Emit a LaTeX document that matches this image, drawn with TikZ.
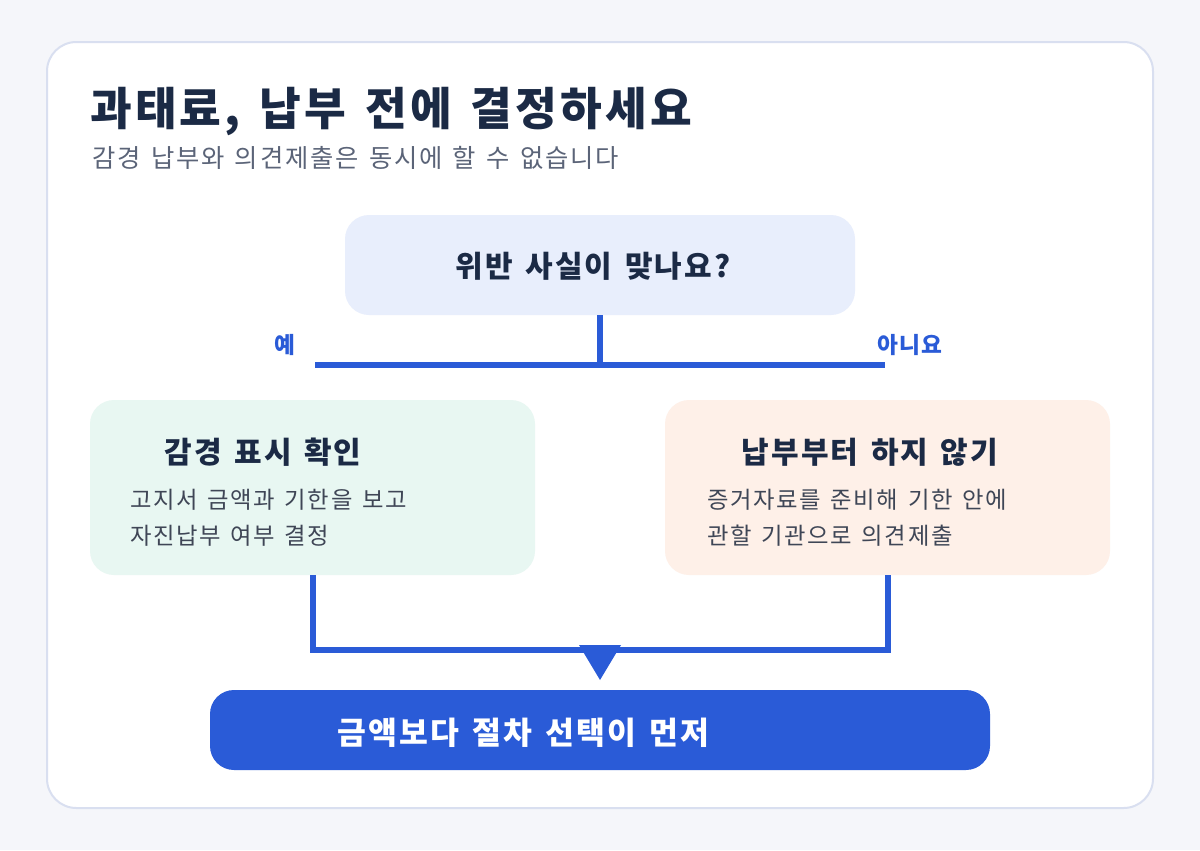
\documentclass[tikz,border=0pt]{standalone}
\usepackage{fontspec}
\setmainfont{Noto Sans CJK KR}[LetterSpace=7,WordSpace=1.4]
\definecolor{bg}{HTML}{F5F6FA}
\definecolor{cardline}{HTML}{D9DFF0}
\definecolor{navy}{HTML}{1B2A45}
\definecolor{sub}{HTML}{5B6478}
\definecolor{blue}{HTML}{2A5BD7}
\definecolor{topf}{HTML}{E8EEFC}
\definecolor{greenf}{HTML}{E8F7F2}
\definecolor{peachf}{HTML}{FEF0E8}
\definecolor{body}{HTML}{3F4656}
\begin{document}
\begin{tikzpicture}[x=0.75pt,y=-0.75pt,
 box/.style={rounded corners=18pt},
 conn/.style={draw=blue,line width=4.5pt},
 ttl/.style={font=\bfseries\fontsize{22.5}{25}\selectfont,text=navy},
 bd/.style={font=\fontsize{17.5}{20}\selectfont,text=body,anchor=west,inner sep=0}]
\fill[bg] (0,0) rectangle (1200,850);
\useasboundingbox (0,0) rectangle (1200,850);
\filldraw[fill=white,draw=cardline,line width=1.5pt,rounded corners=22pt] (47,42) rectangle (1153,808);
\node[anchor=west,inner sep=0,font=\bfseries\fontsize{34}{38}\selectfont,text=navy] (title) at (90,112) {과태료, 납부 전에 결정하세요};
\node[anchor=west,inner sep=0,font=\fontsize{19}{22}\selectfont,text=sub] (subt) at (92,158) {감경 납부와 의견제출은 동시에 할 수 없습니다};
\fill[topf,box] (345,215) rectangle (855,315);
\node[ttl] (q) at (593,266) {위반 사실이 맞나요?};
\coordinate (qb) at (600,315);
\coordinate (qm) at (600,365);
\coordinate (hl) at (315,365);
\coordinate (hr) at (885,365);
\draw[conn] (qb) -- (qm);
\draw[conn] (hl) -- (hr);
\node[font=\bfseries\fontsize{17}{20}\selectfont,text=blue] (yes) at (285,345) {예};
\node[font=\bfseries\fontsize{17}{20}\selectfont,text=blue] (no) at (910,345) {아니요};
\fill[greenf,box] (90,400) rectangle (535,575);
\node[ttl] (lt) at (263,452) {감경 표시 확인};
\node[bd] (l1) at (130,500) {고지서 금액과 기한을 보고};
\node[bd] (l2) at (130,536) {자진납부 여부 결정};
\fill[peachf,box] (665,400) rectangle (1110,575);
\node[ttl] (rt) at (870,452) {납부부터 하지 않기};
\node[bd] (r1) at (707,500) {증거자료를 준비해 기한 안에};
\node[bd] (r2) at (707,536) {관할 기관으로 의견제출};
\coordinate (lb) at (313,575);
\coordinate (rb) at (888,575);
\draw[conn] (lb) -- (313,650) -- (888,650) -- (rb);
\fill[blue] (579,645) -- (621,645) -- (600,680) -- cycle;
\fill[blue,box] (210,690) rectangle (990,770);
\node[anchor=west,inner sep=0,font=\bfseries\fontsize{23.5}{26}\selectfont,text=white] (fin) at (337,733) {금액보다 절차 선택이 먼저};
\end{tikzpicture}
\end{document}
